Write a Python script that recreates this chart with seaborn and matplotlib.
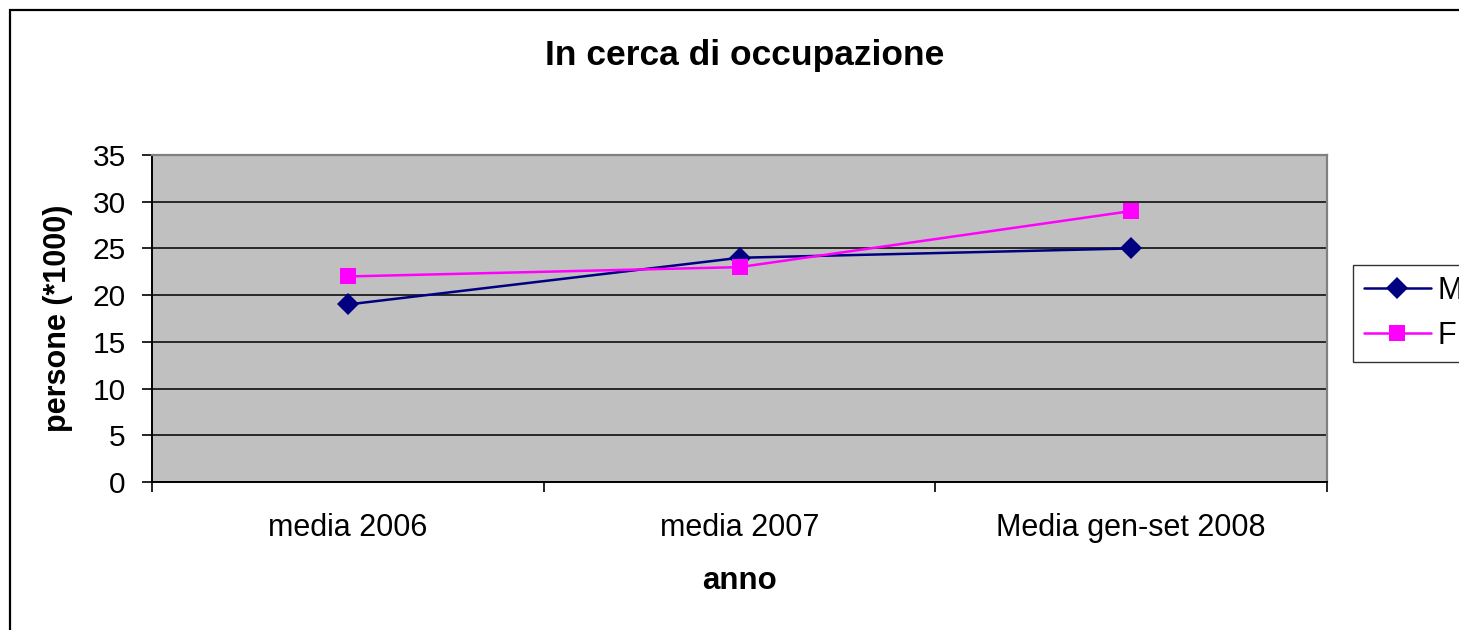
import matplotlib
matplotlib.use("Agg")
import matplotlib.pyplot as plt
import matplotlib.patches as mpatches
import pandas as pd
import seaborn as sns

# Job seekers by period, thousands of people
periods = ["media 2006", "media 2007", "Media gen-set 2008"]
males = [19, 24, 25]
females = [22, 23, 29]
series_names = ["M", "F"]
y_ticks = [0, 5, 10, 15, 20, 25, 30, 35]

df = pd.DataFrame({
    "anno": periods * 2,
    "persone": males + females,
    "sesso": [series_names[0]] * len(periods) + [series_names[1]] * len(periods),
})

sns.set_theme(style="white")
plt.rcParams["font.family"] = ["Liberation Sans", "DejaVu Sans"]
plt.rcParams["text.color"] = "black"
plt.rcParams["axes.labelcolor"] = "black"
plt.rcParams["xtick.color"] = "black"
plt.rcParams["ytick.color"] = "black"

W, H = 1459, 630
fig = plt.figure(figsize=(W / 100, H / 100), dpi=100)
ax = fig.add_axes([152 / W, 1 - 482 / H, (1327 - 152) / W, (482 - 155) / H])
ax.set_facecolor("#C0C0C0")

# outer chart frame (runs off the right and bottom edges)
frame = mpatches.Rectangle((10 / W, -0.2), 1.2, 1 - 10 / H + 0.2,
                           transform=fig.transFigure, fill=False,
                           edgecolor="black", linewidth=1.6, zorder=0)
fig.patches.append(frame)

palette = {"M": "#000080", "F": "#FF00FF"}
markers = {"M": "D", "F": "s"}
sns.lineplot(data=df, x="anno", y="persone", hue="sesso", style="sesso",
             palette=palette, markers=markers, dashes=False, linewidth=1.8,
             markersize=11, markeredgewidth=0, ax=ax, zorder=3, sort=False)

ax.set_xlim(-0.5, len(periods) - 0.5)
ax.set_ylim(0, 35)
ax.set_yticks(y_ticks)
ax.set_yticklabels([str(v) for v in y_ticks], fontsize=21.5)
ax.grid(axis="y", color="black", linewidth=1.1)
ax.grid(axis="x", visible=False)
ax.set_axisbelow(True)

# boundary ticks between categories, labels centred on each category
ax.set_xticks([i - 0.5 for i in range(len(periods) + 1)])
ax.set_xticklabels([""] * (len(periods) + 1))
ax.set_xticks(list(range(len(periods))), minor=True)
ax.set_xticklabels(periods, minor=True, fontsize=22)
ax.tick_params(axis="x", which="major", direction="out", length=7, width=1.2,
               color="black", bottom=True)
ax.tick_params(axis="x", which="minor", length=0, pad=22)
ax.tick_params(axis="y", direction="out", length=7, width=1.2, color="black",
               left=True, pad=12)

for side in ["left", "bottom"]:
    ax.spines[side].set_color("black")
    ax.spines[side].set_linewidth(1.4)
for side in ["top", "right"]:
    ax.spines[side].set_color("#808080")
    ax.spines[side].set_linewidth(1.6)

ax.set_xlabel("anno", fontsize=22.5, fontweight="bold", labelpad=17)
ax.set_ylabel("persone (*1000)", fontsize=22, fontweight="bold", labelpad=14)

fig.text(745 / W, 1 - 55 / H, "In cerca di occupazione", fontsize=25.5,
         fontweight="bold", ha="center", va="center")

handles, labels = ax.get_legend_handles_labels()
leg = fig.legend(handles, labels, loc="upper left",
                 bbox_to_anchor=(1353 / W, 1 - 265 / H), fontsize=22,
                 frameon=True, fancybox=False, edgecolor="black",
                 handlelength=2.2, handletextpad=0.2, labelspacing=0.5,
                 borderpad=0.35, borderaxespad=0)
leg.get_frame().set_linewidth(1.0)
if ax.get_legend() is not None:
    ax.get_legend().remove()

fig.savefig("out.png", dpi=100, facecolor="white")
